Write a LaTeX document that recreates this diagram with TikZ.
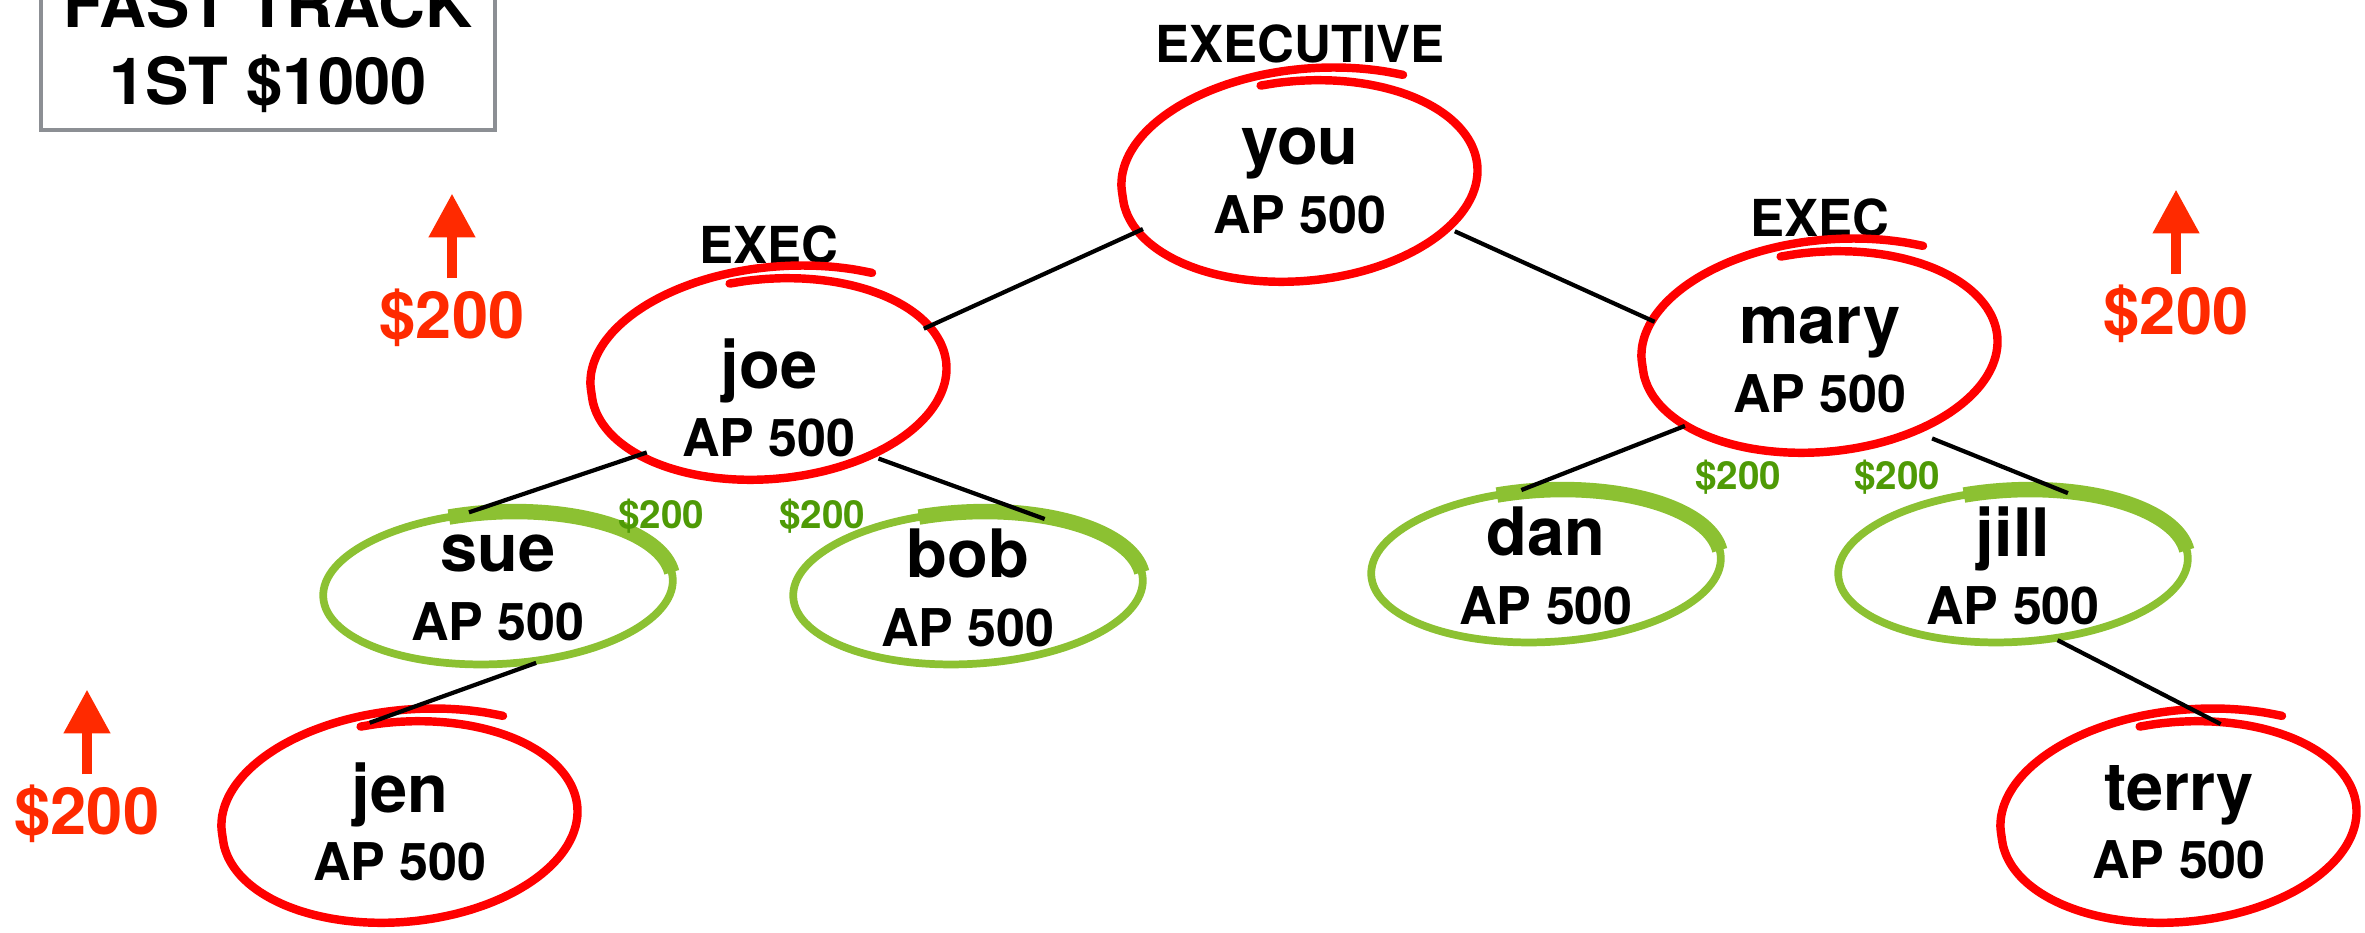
\documentclass[tikz,border=0pt]{standalone}
\usepackage{fontspec}
\setmainfont{TeX Gyre Heros}
\usepackage{tikz}
\usetikzlibrary{shapes,arrows.meta,positioning,calc}

\definecolor{ringred}{HTML}{FF0000}
\definecolor{bonusred}{HTML}{FF2A00}
\definecolor{ringgreen}{HTML}{8CC132}
\definecolor{bonusgreen}{HTML}{4E9A06}
\definecolor{boxgray}{HTML}{8C8F94}

\newcommand{\nm}[1]{{\fontsize{19}{20}\selectfont #1}}
% hand drawn rings, optional lift of the ring above the text
\newcommand{\redring}[2][0]{\draw[ringred, line width=2.4pt, line cap=round, shift={($(#2.center)+(0,#1)$)}, rotate=5] plot[smooth, domain=100:-303, samples=70] ({1.78*cos(\x)*rf(\x)},{1.0*sin(\x)*rf(\x)});}
\newcommand{\greenring}[1]{\draw[ringgreen, line width=2.2pt, shift={(#1.center)}, rotate=3] (0,0) ellipse (1.75 and 0.76);
  \draw[ringgreen, line width=4.4pt, shift={(#1.center)}, rotate=3] ({1.75*cos(105)},{0.76*sin(105)}) arc[start angle=105, end angle=5, x radius=1.75cm, y radius=0.76cm];}

\begin{document}
\begin{tikzpicture}[
    declare function={rf(\t)=1+0.15*max(0,(-180-(\t))/120);},
    member/.style={ellipse, inner sep=-0.3cm, align=center, font=\bfseries\fontsize{14.8}{19.5}\selectfont},
    topring/.style={member, minimum width=3.56cm, minimum height=2.0cm},
    lowring/.style={member, minimum width=3.5cm, minimum height=1.52cm},
    rank/.style={font=\bfseries\fontsize{14.5}{16}\selectfont},
    bonus/.style={text=bonusred, inner sep=0pt, font=\bfseries\fontsize{18.5}{20}\selectfont},
    split/.style={text=bonusgreen, font=\bfseries\fontsize{11}{12}\selectfont},
    uparrow/.style={bonusred, line width=3pt, -{Triangle[length=4.4mm,width=4.4mm]}},
    link/.style={line width=1.2pt},
    trackbox/.style={draw=boxgray, line width=1.2pt, align=center, minimum width=4.54cm, inner ysep=0.17cm, font=\bfseries\fontsize{18.5}{22}\selectfont}
  ]
    \useasboundingbox (0,0) rectangle (23.65,-9.33);

    % Fast track box
    \node[trackbox, anchor=south] (track) at (2.68,-1.32) {FAST TRACK\\1ST \$1000};

    % Members
    \node[topring] (you) at (13.00,-1.81) {\nm{you}\\AP 500};
    \node[topring] (joe) at (7.69,-3.98) {\nm{joe}\\AP 500};
    \node[topring] (mary) at (18.20,-3.60) {\nm{mary}\\AP 500};
    \node[lowring] (sue) at (4.98,-5.88) {\nm{sue}\\AP 500};
    \node[lowring] (bob) at (9.68,-5.88) {\nm{bob}\\AP 500};
    \node[lowring] (dan) at (15.46,-5.66) {\nm{dan}\\AP 500};
    \node[lowring] (jill) at (20.13,-5.66) {\nm{jill}\\AP 500};
    \node[topring] (jen) at (4.00,-8.22) {\nm{jen}\\AP 500};
    \node[topring] (terry) at (21.79,-8.22) {\nm{terry}\\AP 500};

    \node[rank, above=0.5mm of you] (yourank) {EXECUTIVE};
    \node[rank, above=2.1mm of joe] (joerank) {EXEC};
    \node[rank, above=1mm of mary] (maryrank) {EXEC};

    % Circled by hand
    \redring{you}
    \redring[0.19]{joe}
    \redring[0.08]{mary}
    \redring{jen}
    \redring{terry}
    \foreach \who in {sue,bob,dan,jill} {\greenring{\who}}

    % Lines of the tree (joe's ring sits 1.9mm above its text)
    \draw[link] (you.197) -- ([yshift=1.9mm]joe.18);
    \draw[link] (you.342) -- (mary.167);
    \draw[link] ([yshift=1.9mm]joe.211) -- (sue.111);
    \draw[link] ([yshift=1.9mm]joe.324) -- (bob.42);
    \draw[link] (mary.206) -- (dan.108);
    \draw[link] (mary.325) -- (jill.53);
    \draw[link] (sue.297) -- (jen.107);
    \draw[link] (jill.301) -- (terry.67);

    % Paid to the sponsor
    \node[split] (pay1) at (6.61,-5.16) {\$200};
    \node[split] (pay2) at (8.22,-5.16) {\$200};
    \node[split] (pay3) at (17.38,-4.77) {\$200};
    \node[split] (pay4) at (18.97,-4.77) {\$200};

    % Passed up
    \node[bonus] (bonus1) at (4.52,-3.18) {\$200};
    \node[bonus] (bonus2) at (21.76,-3.14) {\$200};
    \node[bonus] (bonus3) at (0.87,-8.14) {\$200};
    \draw[uparrow] ([yshift=1mm]bonus1.north) -- ++(0,0.85);
    \draw[uparrow] ([yshift=1mm]bonus2.north) -- ++(0,0.85);
    \draw[uparrow] ([yshift=1mm]bonus3.north) -- ++(0,0.85);
\end{tikzpicture}
\end{document}
